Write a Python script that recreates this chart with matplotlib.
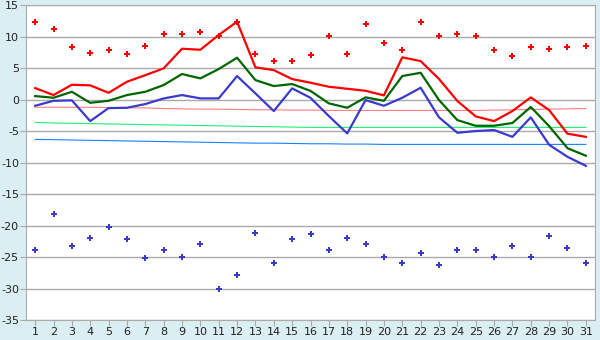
import matplotlib
matplotlib.use("Agg")
import matplotlib.pyplot as plt
import numpy as np

plt.rcParams['axes.unicode_minus'] = False

days = np.arange(1, 32)

# daily maximum / minimum temperature (markers)
t_max = [12.3, 11.2, 8.3, 7.5, 7.85, 7.2, 8.6, 10.5, 10.5, 10.7, 10.2, 12.4, 7.25, 6.1, 6.1, 7.05,
         10.1, 7.25, 12.1, 8.95, 7.85, 12.3, 10.1, 10.4, 10.1, 7.85, 6.9, 8.3, 8.0, 8.3, 8.6]
t_min = [-23.95, -18.2, -23.3, -21.9, -20.3, -22.2, -25.2, -23.95, -25.05, -22.85, -30.0, -27.8,
         -21.1, -26.0, -22.2, -21.4, -23.95, -22.05, -22.85, -25.05, -26.0, -24.4, -26.3, -23.95,
         -23.95, -25.05, -23.3, -25.05, -21.7, -23.6, -26.0]

# daily lines
t_hi = [1.85, 0.74, 2.38, 2.28, 1.1, 2.85, 3.9, 4.98, 8.1, 7.94, 10.28, 12.4, 5.14, 4.7, 3.28, 2.7,
        2.06, 1.74, 1.42, 0.69, 6.73, 6.14, 3.3, -0.2, -2.65, -3.4, -1.8, 0.37, -1.65, -5.4, -5.9]
t_avg = [0.58, 0.31, 1.26, -0.49, -0.17, 0.74, 1.26, 2.33, 4.08, 3.39, 4.87, 6.67, 3.12, 2.17, 2.49,
         1.4, -0.58, -1.28, 0.37, -0.17, 3.76, 4.28, -0.05, -3.24, -4.14, -4.14, -3.7, -1.15, -4.2,
         -7.7, -8.9]
t_lo = [-0.96, -0.17, -0.1, -3.4, -1.33, -1.28, -0.69, 0.2, 0.74, 0.21, 0.21, 3.76, 1.0, -1.8, 1.8,
        0.3, -2.6, -5.35, -0.06, -0.96, 0.31, 1.9, -2.8, -5.25, -4.98, -4.82, -5.9, -2.8, -7.16,
        -9.07, -10.5]

# climate normals
n_hi = [-1.2, -1.2, -1.2, -1.2, -1.25, -1.3, -1.3, -1.4, -1.45, -1.5, -1.5, -1.55, -1.6, -1.6,
        -1.65, -1.65, -1.7, -1.7, -1.7, -1.7, -1.7, -1.7, -1.7, -1.7, -1.7, -1.65, -1.6, -1.55,
        -1.5, -1.45, -1.4]
n_avg = [-3.6, -3.7, -3.75, -3.8, -3.85, -3.9, -3.95, -4.0, -4.05, -4.1, -4.15, -4.2, -4.25, -4.3,
         -4.35, -4.4, -4.4, -4.4, -4.4, -4.4, -4.4, -4.4, -4.4, -4.4, -4.4, -4.4, -4.4, -4.4,
         -4.4, -4.4, -4.4]
n_lo = [-6.3, -6.35, -6.4, -6.45, -6.5, -6.55, -6.6, -6.65, -6.7, -6.75, -6.8, -6.85, -6.9, -6.9,
        -6.95, -7.0, -7.0, -7.05, -7.05, -7.1, -7.1, -7.1, -7.1, -7.1, -7.1, -7.1, -7.1, -7.1,
        -7.1, -7.1, -7.1]

fig = plt.figure(figsize=(6, 3.4), dpi=100)
fig.patch.set_facecolor('#daeef3')
ax = fig.add_axes([0.0433, 0.0588, 0.9484, 0.9256])
ax.set_facecolor('white')

ax.plot(days, n_hi, color='#ff7f7f', lw=0.8)
ax.plot(days, n_avg, color='#22ee77', lw=0.8)
ax.plot(days, n_lo, color='#1a7fff', lw=0.8)

ax.plot(days, t_lo, color='#3a3acc', lw=1.6)
ax.plot(days, t_avg, color='#006600', lw=1.6)
ax.plot(days, t_hi, color='#ff0000', lw=1.6)

ax.plot(days, t_max, ls='none', marker='P', ms=5, color='#ff0000', mew=0)
ax.plot(days, t_min, ls='none', marker='P', ms=5, color='#3a3acc', mew=0)

ax.set_xlim(0.5, 31.5)
ax.set_ylim(-35, 15)
ax.set_xticks(days)
ax.set_yticks(np.arange(-35, 16, 5))
ax.yaxis.grid(True, color='#aaaaaa', lw=1)
ax.set_axisbelow(True)
for sp in ax.spines.values():
    sp.set_color('#aaaaaa')
ax.tick_params(colors='#aaaaaa', labelcolor='#222222', labelsize=8, length=4, pad=1)

fig.savefig('out.png', dpi=100, facecolor=fig.get_facecolor())
